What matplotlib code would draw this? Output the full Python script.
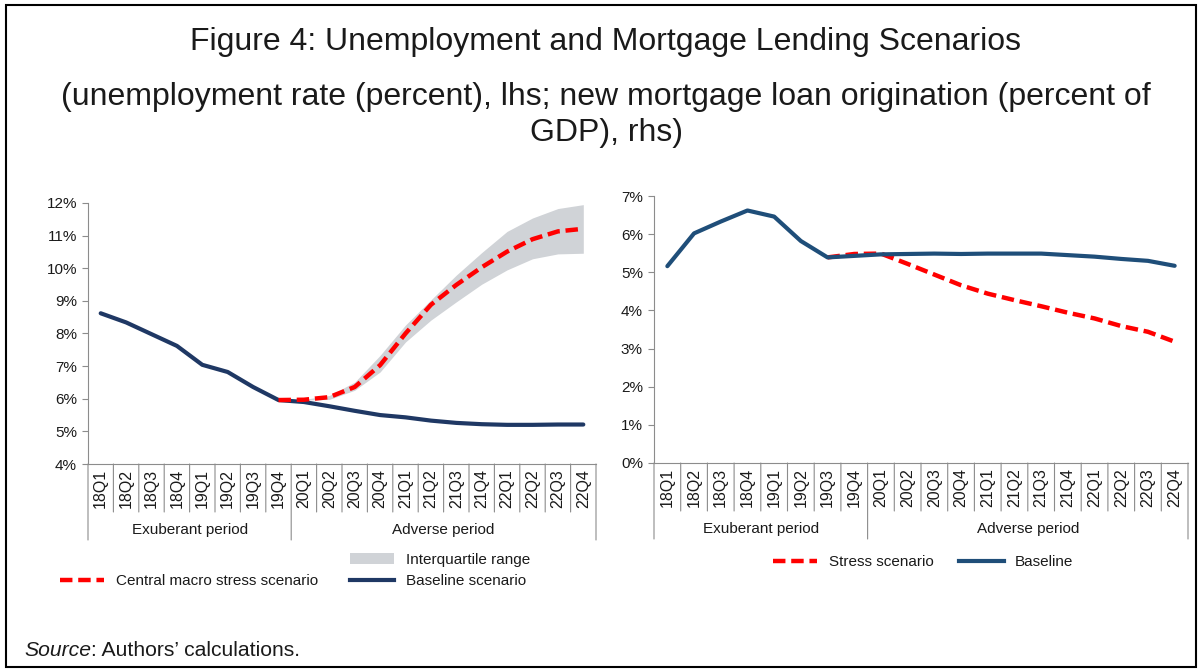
import matplotlib
matplotlib.use('Agg')
import matplotlib.pyplot as plt
from matplotlib.lines import Line2D
from matplotlib.patches import Patch, Rectangle
from matplotlib.transforms import offset_copy
from matplotlib.ticker import FuncFormatter, MultipleLocator

plt.rcParams['font.family'] = ['Liberation Sans', 'DejaVu Sans']

# quarters shared by both panels
quarters = ['18Q1', '18Q2', '18Q3', '18Q4', '19Q1', '19Q2', '19Q3', '19Q4',
            '20Q1', '20Q2', '20Q3', '20Q4', '21Q1', '21Q2', '21Q3', '21Q4',
            '22Q1', '22Q2', '22Q3', '22Q4']
periods = ['Exuberant period', 'Adverse period']
n_exuberant = 8

# left panel: unemployment rate (percent)
unemp_baseline = [8.62, 8.34, 7.98, 7.62, 7.04, 6.82, 6.36, 5.96, 5.90, 5.77,
                  5.63, 5.50, 5.43, 5.33, 5.26, 5.22, 5.20, 5.20, 5.21, 5.21]
unemp_stress = [5.96, 5.97, 6.05, 6.36, 7.03, 8.00, 8.88, 9.49, 10.03, 10.51,
                10.89, 11.13, 11.21]          # from 19Q4
iqr_low = [5.96, 5.96, 5.98, 6.26, 6.82, 7.74, 8.41, 8.97, 9.51, 9.95,
           10.29, 10.44, 10.46]               # from 19Q4
iqr_high = [5.96, 5.98, 6.10, 6.51, 7.33, 8.26, 9.03, 9.79, 10.48, 11.13,
            11.54, 11.83, 11.95]

# right panel: new mortgage loan origination (percent of GDP)
mort_baseline = [5.16, 6.02, 6.33, 6.62, 6.46, 5.82, 5.39, 5.43, 5.47, 5.48,
                 5.49, 5.48, 5.49, 5.49, 5.49, 5.45, 5.41, 5.35, 5.30, 5.17]
mort_stress = [5.39, 5.48, 5.49, 5.22, 4.94, 4.66, 4.44, 4.27, 4.11, 3.94,
               3.79, 3.59, 3.44, 3.18]        # from 19Q3

RED = '#FF0000'
NAVY_L = '#1F3864'
NAVY_R = '#1F4E79'
BAND = '#D0D3D7'
AXC = '#8C8C8C'
TXT = '#1A1A1A'
DASH = (2.8, 1.3)

W, H = 1201, 672
fig = plt.figure(figsize=(W / 100, H / 100), dpi=100)


def px(x0, y0, x1, y1):
    return [x0 / W, 1 - y1 / H, (x1 - x0) / W, (y1 - y0) / H]


def category_axis(ax):
    n = len(quarters)
    ax.set_xlim(-0.5, n - 0.5)
    ax.set_xticks([])
    for s in ['top', 'right']:
        ax.spines[s].set_visible(False)
    ax.spines['left'].set_color(AXC)
    ax.spines['bottom'].set_color(AXC)
    ax.tick_params(axis='y', length=4, width=0.8, color=AXC, pad=4,
                   labelsize=11, labelcolor=TXT)
    tr = ax.get_xaxis_transform()
    # separators below the axis: short ones between quarters,
    # long ones at the edges of each period
    for k in range(n + 1):
        depth = 76 if k in (0, n_exuberant, n) else 48
        bot = offset_copy(tr, fig=fig, y=-depth, units='dots')
        ax.annotate('', xy=(k - 0.5, 0), xycoords=tr,
                    xytext=(k - 0.5, 0), textcoords=bot,
                    arrowprops=dict(arrowstyle='-', color=AXC, lw=0.8,
                                    shrinkA=0, shrinkB=0))
    lab_tr = offset_copy(tr, fig=fig, y=-5, units='dots')
    for i, q in enumerate(quarters):
        ax.text(i, 0, q, transform=lab_tr, rotation=90, ha='center',
                va='top', fontsize=11.5, color=TXT)
    per_tr = offset_copy(tr, fig=fig, y=-66, units='dots')
    centres = [(n_exuberant - 1) / 2, (n_exuberant + n - 1) / 2]
    for c, p in zip(centres, periods):
        ax.text(c, 0, p, transform=per_tr, ha='center', va='center',
                fontsize=11, color=TXT)


pct = FuncFormatter(lambda v, _: f'{v:.0f}%')
x_all = list(range(len(quarters)))

# left panel
ax1 = fig.add_axes(px(88, 203, 596, 464))
x_stress = x_all[n_exuberant - 1:]
ax1.fill_between(x_stress, iqr_low, iqr_high, color=BAND, lw=0)
ax1.plot(x_all, unemp_baseline, color=NAVY_L, lw=3, solid_capstyle='round',
         solid_joinstyle='round', zorder=3)
ax1.plot(x_stress, unemp_stress, color=RED, lw=3.2, dashes=DASH, zorder=4)
ax1.set_ylim(4, 12)
ax1.yaxis.set_major_locator(MultipleLocator(1))
ax1.yaxis.set_major_formatter(pct)
category_axis(ax1)

# right panel
ax2 = fig.add_axes(px(654, 196, 1188, 463))
x_mstress = x_all[n_exuberant - 2:]
ax2.plot(x_mstress, mort_stress, color=RED, lw=3.2, dashes=DASH, zorder=3)
ax2.plot(x_all, mort_baseline, color=NAVY_R, lw=3, solid_capstyle='round',
         solid_joinstyle='round', zorder=4)
ax2.set_ylim(0, 7)
ax2.yaxis.set_major_locator(MultipleLocator(1))
ax2.yaxis.set_major_formatter(pct)
category_axis(ax2)

# legends
blank = Line2D([], [], alpha=0)
h_stress_l = Line2D([], [], color=RED, lw=3.2, dashes=DASH)
h_base_l = Line2D([], [], color=NAVY_L, lw=3)
h_band = Patch(facecolor=BAND, edgecolor='none')
fig.legend([blank, h_stress_l, h_band, h_base_l],
           ['', 'Central macro stress scenario', 'Interquartile range',
            'Baseline scenario'],
           ncol=2, loc='upper left', bbox_to_anchor=(60 / W, 1 - 553 / H),
           frameon=False, fontsize=11, handlelength=2.9, handletextpad=0.75,
           columnspacing=2.1, labelspacing=0.45, borderpad=0,
           borderaxespad=0, labelcolor=TXT)

h_stress_r = Line2D([], [], color=RED, lw=3.2, dashes=DASH)
h_base_r = Line2D([], [], color=NAVY_R, lw=3)
fig.legend([h_stress_r, h_base_r], ['Stress scenario', 'Baseline'],
           ncol=2, loc='upper left', bbox_to_anchor=(773 / W, 1 - 555 / H),
           frameon=False, fontsize=11, handlelength=2.9, handletextpad=0.75,
           columnspacing=1.7, borderpad=0, borderaxespad=0, labelcolor=TXT)

# titles
fig.text(606 / W, 1 - 42 / H,
         'Figure 4: Unemployment and Mortgage Lending Scenarios',
         ha='center', va='center', fontsize=23, color=TXT)
fig.text(606 / W, 1 - 97 / H,
         '(unemployment rate (percent), lhs; new mortgage loan origination (percent of',
         ha='center', va='center', fontsize=23, color=TXT)
fig.text(606 / W, 1 - 133 / H, 'GDP), rhs)',
         ha='center', va='center', fontsize=23, color=TXT)

# source note
src = fig.text(24 / W, 1 - 650 / H, 'Source', ha='left', va='center',
               fontsize=15.2, style='italic', color=TXT)
fig.text(0, 0, '')
plt.annotate(': Authors\u2019 calculations.', xy=(1, 0.5), xycoords=src,
             ha='left', va='center', fontsize=15.2, color=TXT,
             annotation_clip=False)

# outer frame
fig.patches.append(Rectangle((6 / W, 1 - 667 / H), 1190 / W, 662 / H,
                             transform=fig.transFigure, fill=False,
                             edgecolor='black', lw=1.5))

fig.savefig('out.png', dpi=100)
